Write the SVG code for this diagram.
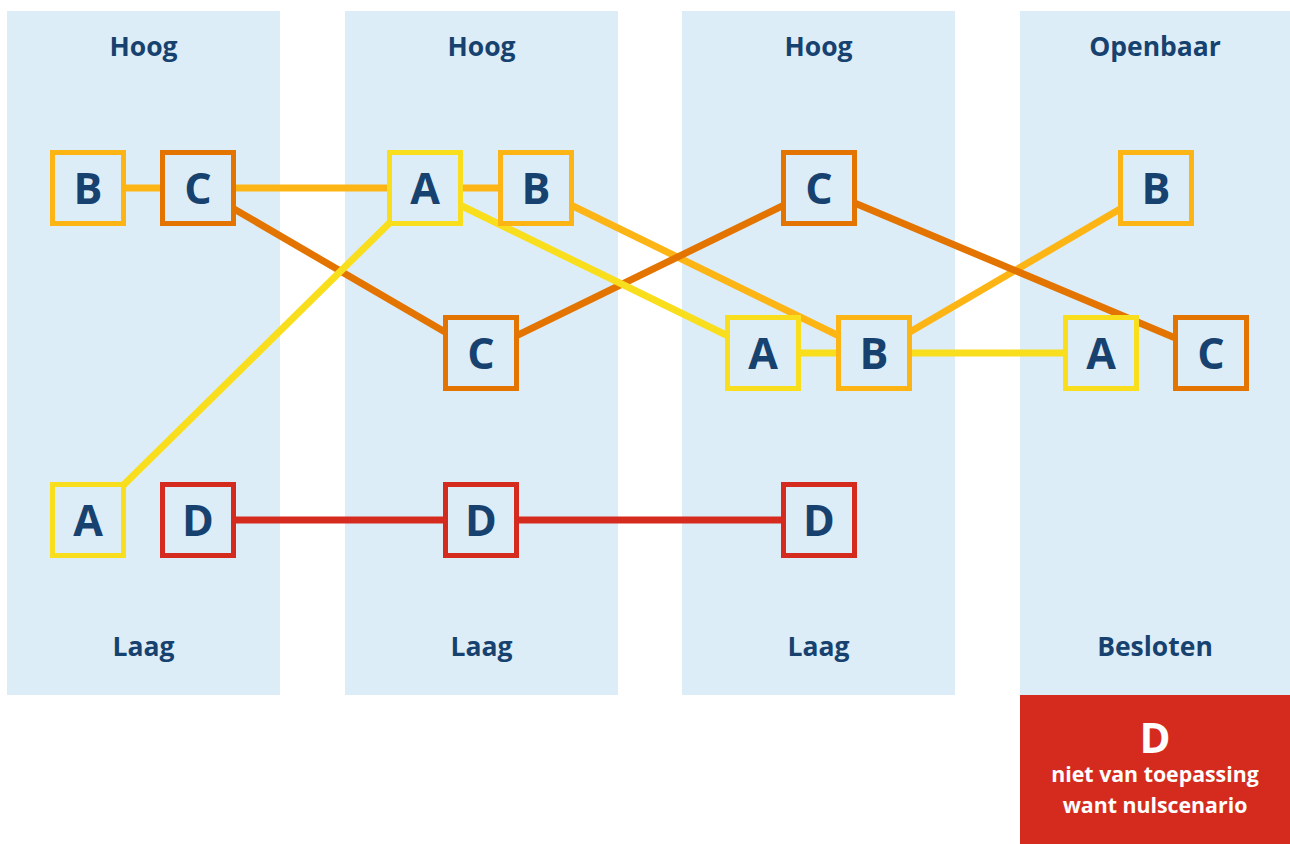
<svg xmlns="http://www.w3.org/2000/svg" width="1290" height="844" viewBox="0 0 1290 844">
<style>
.panel{fill:#ddedf7}
.lbl{font-family:"Open Sans","DejaVu Sans",sans-serif;font-weight:700;font-size:26.5px;fill:#17426f;text-anchor:middle}
.box{fill:#ddedf7;stroke-width:5}
.let{font-family:"Open Sans","DejaVu Sans",sans-serif;font-weight:700;font-size:43px;fill:#17426f;text-anchor:middle}
.y{stroke:#f9de1e}.a{stroke:#fdb515}.o{stroke:#e37400}.r{stroke:#d52b1e}
.ln{stroke-width:7;fill:none}
.wt{font-family:"Open Sans","DejaVu Sans",sans-serif;font-weight:700;fill:#ffffff;text-anchor:middle}
</style>
<g id="panels">
<rect class="panel" x="7" y="11" width="273" height="684"/>
<rect class="panel" x="345" y="11" width="273" height="684"/>
<rect class="panel" x="682" y="11" width="273" height="684"/>
<rect class="panel" x="1020" y="11" width="270" height="684"/>
<text class="lbl" x="143.5" y="56">Hoog</text>
<text class="lbl" x="481.5" y="56">Hoog</text>
<text class="lbl" x="818.5" y="56">Hoog</text>
<text class="lbl" x="1155" y="56">Openbaar</text>
<text class="lbl" x="143.5" y="656">Laag</text>
<text class="lbl" x="481.5" y="656">Laag</text>
<text class="lbl" x="818.5" y="656">Laag</text>
<text class="lbl" x="1155" y="656">Besloten</text>
</g>
<g id="connectors">
<line class="ln a" x1="88" y1="188" x2="198" y2="188"/>
<line class="ln a" x1="198" y1="188" x2="425" y2="188"/>
<line class="ln a" x1="425" y1="188" x2="536" y2="188"/>
<line class="ln a" x1="536" y1="188" x2="874" y2="353"/>
<line class="ln a" x1="874" y1="353" x2="1156" y2="188"/>
<line class="ln o" x1="198" y1="188" x2="481" y2="353"/>
<line class="ln o" x1="481" y1="353" x2="819" y2="188"/>
<line class="ln o" x1="819" y1="188" x2="1211" y2="353"/>
<line class="ln y" x1="88" y1="520" x2="425" y2="188"/>
<line class="ln y" x1="425" y1="188" x2="763" y2="353"/>
<line class="ln y" x1="763" y1="353" x2="874" y2="353"/>
<line class="ln y" x1="874" y1="353" x2="1101" y2="353"/>
<line class="ln r" x1="198" y1="520" x2="819" y2="520"/>
</g>
<g id="p1-B"><rect class="box a" x="52.5" y="152.5" width="71" height="71"/><text class="let" x="88" y="204">B</text></g>
<g id="p1-C"><rect class="box o" x="162.5" y="152.5" width="71" height="71"/><text class="let" x="198" y="204">C</text></g>
<g id="p1-A"><rect class="box y" x="52.5" y="484.5" width="71" height="71"/><text class="let" x="88" y="536">A</text></g>
<g id="p1-D"><rect class="box r" x="162.5" y="484.5" width="71" height="71"/><text class="let" x="198" y="536">D</text></g>
<g id="p2-A"><rect class="box y" x="389.5" y="152.5" width="71" height="71"/><text class="let" x="425" y="204">A</text></g>
<g id="p2-B"><rect class="box a" x="500.5" y="152.5" width="71" height="71"/><text class="let" x="536" y="204">B</text></g>
<g id="p2-C"><rect class="box o" x="445.5" y="317.5" width="71" height="71"/><text class="let" x="481" y="369">C</text></g>
<g id="p2-D"><rect class="box r" x="445.5" y="484.5" width="71" height="71"/><text class="let" x="481" y="536">D</text></g>
<g id="p3-C"><rect class="box o" x="783.5" y="152.5" width="71" height="71"/><text class="let" x="819" y="204">C</text></g>
<g id="p3-A"><rect class="box y" x="727.5" y="317.5" width="71" height="71"/><text class="let" x="763" y="369">A</text></g>
<g id="p3-B"><rect class="box a" x="838.5" y="317.5" width="71" height="71"/><text class="let" x="874" y="369">B</text></g>
<g id="p3-D"><rect class="box r" x="783.5" y="484.5" width="71" height="71"/><text class="let" x="819" y="536">D</text></g>
<g id="p4-B"><rect class="box a" x="1120.5" y="152.5" width="71" height="71"/><text class="let" x="1156" y="204">B</text></g>
<g id="p4-A"><rect class="box y" x="1065.5" y="317.5" width="71" height="71"/><text class="let" x="1101" y="369">A</text></g>
<g id="p4-C"><rect class="box o" x="1175.5" y="317.5" width="71" height="71"/><text class="let" x="1211" y="369">C</text></g>
<g id="p4-D">
<rect x="1020" y="695" width="270" height="149" fill="#d52b1e"/>
<text class="wt" x="1155" y="753" font-size="42">D</text>
<text class="wt" x="1155" y="782" font-size="21.3">niet van toepassing</text>
<text class="wt" x="1155" y="813" font-size="21.3">want nulscenario</text>
</g>
</svg>
